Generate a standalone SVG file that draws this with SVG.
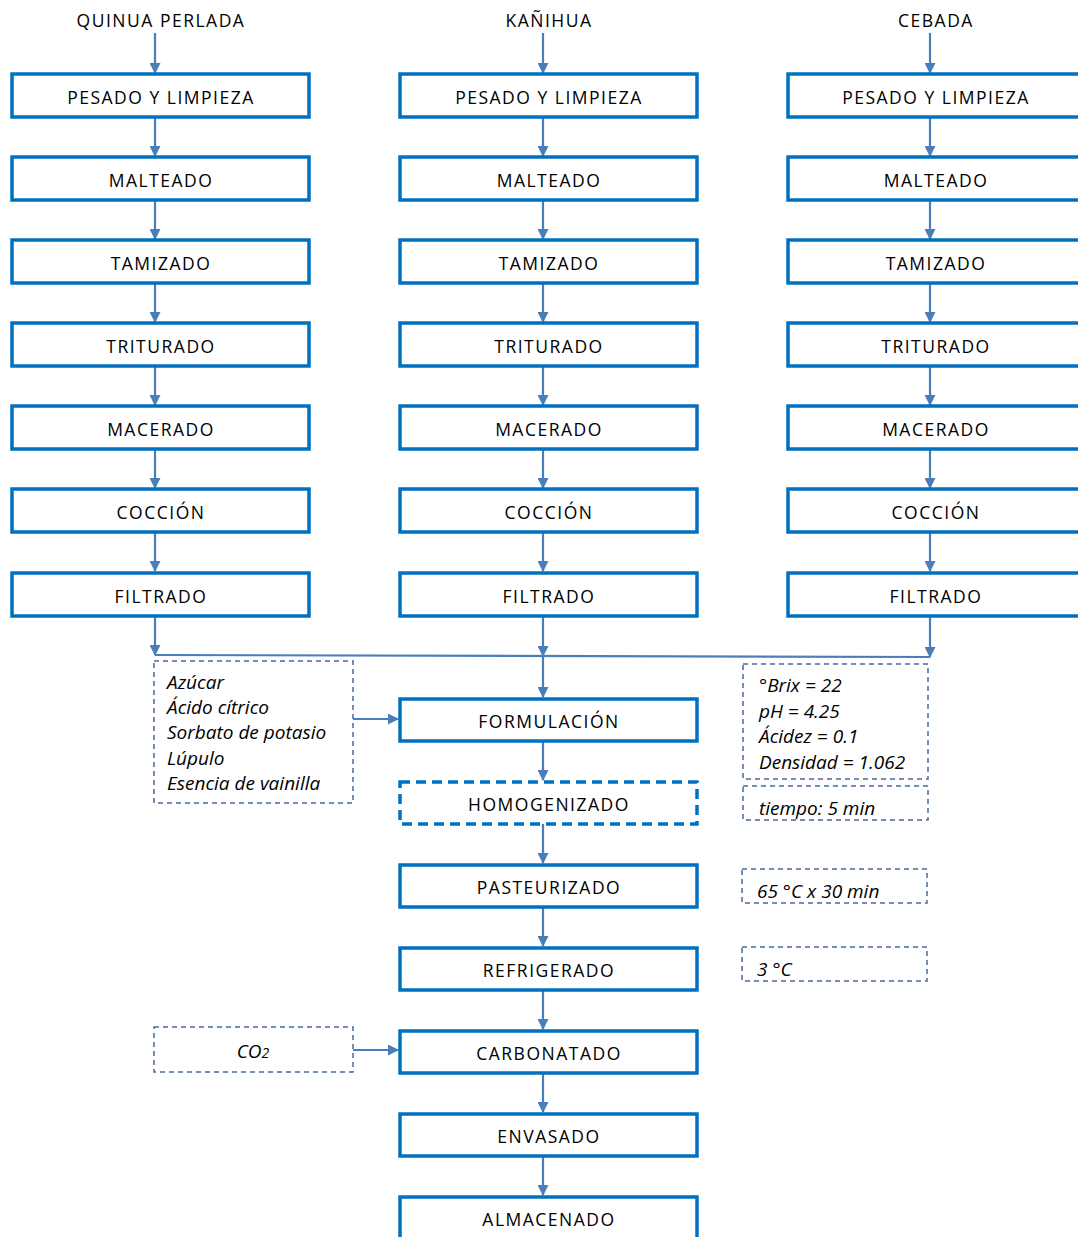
<svg xmlns="http://www.w3.org/2000/svg" width="1078" height="1237" viewBox="0 0 1078 1237">
<defs>
<marker id="ah" markerWidth="11" markerHeight="11" refX="10" refY="5.5" orient="auto" markerUnits="userSpaceOnUse" viewBox="0 0 11 11">
<path d="M0,0 L11,5.5 L0,11 z" fill="#4A7EBB"/>
</marker>
<style>
.box{fill:#fff;stroke:#0070C0;stroke-width:3.5}
.dbox{fill:#fff;stroke:#0070C0;stroke-width:3.5;stroke-dasharray:10,6}
.note{fill:none;stroke:#4A6A9A;stroke-width:1.5;stroke-dasharray:5,4}
.lbl{font-family:"Open Sans","Liberation Sans",sans-serif;font-size:17.5px;letter-spacing:1.5px;fill:#000;text-anchor:middle}
.it{font-family:"Open Sans","Liberation Sans",sans-serif;font-size:19px;font-style:italic;fill:#000}
.c{fill:none;stroke:#4A7EBB;stroke-width:2.2}
</style>
</defs>
<rect width="1078" height="1237" fill="#fff"/>

<g id="headers">
<text class="lbl" x="161" y="27">QUINUA PERLADA</text>
<text class="lbl" x="549" y="27">KAÑIHUA</text>
<text class="lbl" x="936" y="27">CEBADA</text>
</g>

<g id="connectors">
<line class="c" x1="155" y1="33" x2="155" y2="73" marker-end="url(#ah)"/>
<line class="c" x1="543" y1="33" x2="543" y2="73" marker-end="url(#ah)"/>
<line class="c" x1="930" y1="33" x2="930" y2="73" marker-end="url(#ah)"/>
<g id="col-arrows">
<line class="c" x1="155" y1="117" x2="155" y2="156" marker-end="url(#ah)"/>
<line class="c" x1="155" y1="200" x2="155" y2="239" marker-end="url(#ah)"/>
<line class="c" x1="155" y1="283" x2="155" y2="322" marker-end="url(#ah)"/>
<line class="c" x1="155" y1="366" x2="155" y2="405" marker-end="url(#ah)"/>
<line class="c" x1="155" y1="449" x2="155" y2="488" marker-end="url(#ah)"/>
<line class="c" x1="155" y1="532" x2="155" y2="571" marker-end="url(#ah)"/>
<line class="c" x1="543" y1="117" x2="543" y2="156" marker-end="url(#ah)"/>
<line class="c" x1="543" y1="200" x2="543" y2="239" marker-end="url(#ah)"/>
<line class="c" x1="543" y1="283" x2="543" y2="322" marker-end="url(#ah)"/>
<line class="c" x1="543" y1="366" x2="543" y2="405" marker-end="url(#ah)"/>
<line class="c" x1="543" y1="449" x2="543" y2="488" marker-end="url(#ah)"/>
<line class="c" x1="543" y1="532" x2="543" y2="571" marker-end="url(#ah)"/>
<line class="c" x1="930" y1="117" x2="930" y2="156" marker-end="url(#ah)"/>
<line class="c" x1="930" y1="200" x2="930" y2="239" marker-end="url(#ah)"/>
<line class="c" x1="930" y1="283" x2="930" y2="322" marker-end="url(#ah)"/>
<line class="c" x1="930" y1="366" x2="930" y2="405" marker-end="url(#ah)"/>
<line class="c" x1="930" y1="449" x2="930" y2="488" marker-end="url(#ah)"/>
<line class="c" x1="930" y1="532" x2="930" y2="571" marker-end="url(#ah)"/>
</g>
<line class="c" x1="155" y1="616" x2="155" y2="655" marker-end="url(#ah)"/>
<line class="c" x1="543" y1="616" x2="543" y2="656" marker-end="url(#ah)"/>
<line class="c" x1="930" y1="616" x2="930" y2="657" marker-end="url(#ah)"/>
<line class="c" x1="155" y1="655" x2="930" y2="657"/>
<line class="c" x1="543" y1="656" x2="543" y2="697" marker-end="url(#ah)"/>
<line class="c" x1="543" y1="741" x2="543" y2="780" marker-end="url(#ah)"/>
<line class="c" x1="543" y1="824" x2="543" y2="863" marker-end="url(#ah)"/>
<line class="c" x1="543" y1="907" x2="543" y2="946" marker-end="url(#ah)"/>
<line class="c" x1="543" y1="990" x2="543" y2="1029" marker-end="url(#ah)"/>
<line class="c" x1="543" y1="1073" x2="543" y2="1112" marker-end="url(#ah)"/>
<line class="c" x1="543" y1="1156" x2="543" y2="1195" marker-end="url(#ah)"/>
<line class="c" x1="353" y1="719" x2="398" y2="719" stroke-width="1.8" marker-end="url(#ah)"/>
<line class="c" x1="353" y1="1050" x2="398" y2="1050" stroke-width="1.8" marker-end="url(#ah)"/>
</g>

<g id="col-quinua">
<g id="q1"><rect class="box" x="12" y="74" width="297" height="43"/><text class="lbl" x="161" y="104">PESADO Y LIMPIEZA</text></g>
<g id="q2"><rect class="box" x="12" y="157" width="297" height="43"/><text class="lbl" x="161" y="187">MALTEADO</text></g>
<g id="q3"><rect class="box" x="12" y="240" width="297" height="43"/><text class="lbl" x="161" y="270">TAMIZADO</text></g>
<g id="q4"><rect class="box" x="12" y="323" width="297" height="43"/><text class="lbl" x="161" y="353">TRITURADO</text></g>
<g id="q5"><rect class="box" x="12" y="406" width="297" height="43"/><text class="lbl" x="161" y="436">MACERADO</text></g>
<g id="q6"><rect class="box" x="12" y="489" width="297" height="43"/><text class="lbl" x="161" y="519">COCCIÓN</text></g>
<g id="q7"><rect class="box" x="12" y="573" width="297" height="43"/><text class="lbl" x="161" y="603">FILTRADO</text></g>
</g>

<g id="col-kanihua">
<g id="k1"><rect class="box" x="400" y="74" width="297" height="43"/><text class="lbl" x="549" y="104">PESADO Y LIMPIEZA</text></g>
<g id="k2"><rect class="box" x="400" y="157" width="297" height="43"/><text class="lbl" x="549" y="187">MALTEADO</text></g>
<g id="k3"><rect class="box" x="400" y="240" width="297" height="43"/><text class="lbl" x="549" y="270">TAMIZADO</text></g>
<g id="k4"><rect class="box" x="400" y="323" width="297" height="43"/><text class="lbl" x="549" y="353">TRITURADO</text></g>
<g id="k5"><rect class="box" x="400" y="406" width="297" height="43"/><text class="lbl" x="549" y="436">MACERADO</text></g>
<g id="k6"><rect class="box" x="400" y="489" width="297" height="43"/><text class="lbl" x="549" y="519">COCCIÓN</text></g>
<g id="k7"><rect class="box" x="400" y="573" width="297" height="43"/><text class="lbl" x="549" y="603">FILTRADO</text></g>
</g>

<g id="col-cebada">
<g id="c1"><rect class="box" x="788" y="74" width="297" height="43"/><text class="lbl" x="936" y="104">PESADO Y LIMPIEZA</text></g>
<g id="c2"><rect class="box" x="788" y="157" width="297" height="43"/><text class="lbl" x="936" y="187">MALTEADO</text></g>
<g id="c3"><rect class="box" x="788" y="240" width="297" height="43"/><text class="lbl" x="936" y="270">TAMIZADO</text></g>
<g id="c4"><rect class="box" x="788" y="323" width="297" height="43"/><text class="lbl" x="936" y="353">TRITURADO</text></g>
<g id="c5"><rect class="box" x="788" y="406" width="297" height="43"/><text class="lbl" x="936" y="436">MACERADO</text></g>
<g id="c6"><rect class="box" x="788" y="489" width="297" height="43"/><text class="lbl" x="936" y="519">COCCIÓN</text></g>
<g id="c7"><rect class="box" x="788" y="573" width="297" height="43"/><text class="lbl" x="936" y="603">FILTRADO</text></g>
</g>

<g id="main">
<g id="formulacion"><rect class="box" x="400" y="699" width="297" height="42"/><text class="lbl" x="549" y="728">FORMULACIÓN</text></g>
<g id="homogenizado"><rect class="dbox" x="400" y="782" width="297" height="42"/><text class="lbl" x="549" y="811">HOMOGENIZADO</text></g>
<g id="pasteurizado"><rect class="box" x="400" y="865" width="297" height="42"/><text class="lbl" x="549" y="894">PASTEURIZADO</text></g>
<g id="refrigerado"><rect class="box" x="400" y="948" width="297" height="42"/><text class="lbl" x="549" y="977">REFRIGERADO</text></g>
<g id="carbonatado"><rect class="box" x="400" y="1031" width="297" height="42"/><text class="lbl" x="549" y="1060">CARBONATADO</text></g>
<g id="envasado"><rect class="box" x="400" y="1114" width="297" height="42"/><text class="lbl" x="549" y="1143">ENVASADO</text></g>
<g id="almacenado"><rect class="box" x="400" y="1197" width="297" height="45"/><text class="lbl" x="549" y="1226">ALMACENADO</text></g>
</g>

<g id="notes">
<g id="ingredientes"><rect class="note" x="154" y="661" width="199" height="142"/>
<text class="it" x="167" y="689">Azúcar</text>
<text class="it" x="167" y="714">Ácido cítrico</text>
<text class="it" x="167" y="739">Sorbato de potasio</text>
<text class="it" x="167" y="765">Lúpulo</text>
<text class="it" x="167" y="790">Esencia de vainilla</text></g>
<g id="parametros"><rect class="note" x="743" y="664" width="185" height="115"/>
<text class="it" x="759" y="692">°Brix = 22</text>
<text class="it" x="759" y="718">pH = 4.25</text>
<text class="it" x="759" y="743">Ácidez = 0.1</text>
<text class="it" x="759" y="769">Densidad = 1.062</text></g>
<g id="tiempo"><rect class="note" x="743" y="786" width="185" height="34"/><text class="it" x="759" y="815">tiempo: 5 min</text></g>
<g id="pasteur-cond"><rect class="note" x="742" y="869" width="185" height="34"/><text class="it" x="757" y="898">65 °C x 30 min</text></g>
<g id="refrig-cond"><rect class="note" x="742" y="947" width="185" height="34"/><text class="it" x="757" y="976">3 °C</text></g>
<g id="co2"><rect class="note" x="154" y="1027" width="199" height="45"/><text class="it" x="253" y="1058" text-anchor="middle">CO<tspan font-size="14">2</tspan></text></g>
</g>
</svg>
